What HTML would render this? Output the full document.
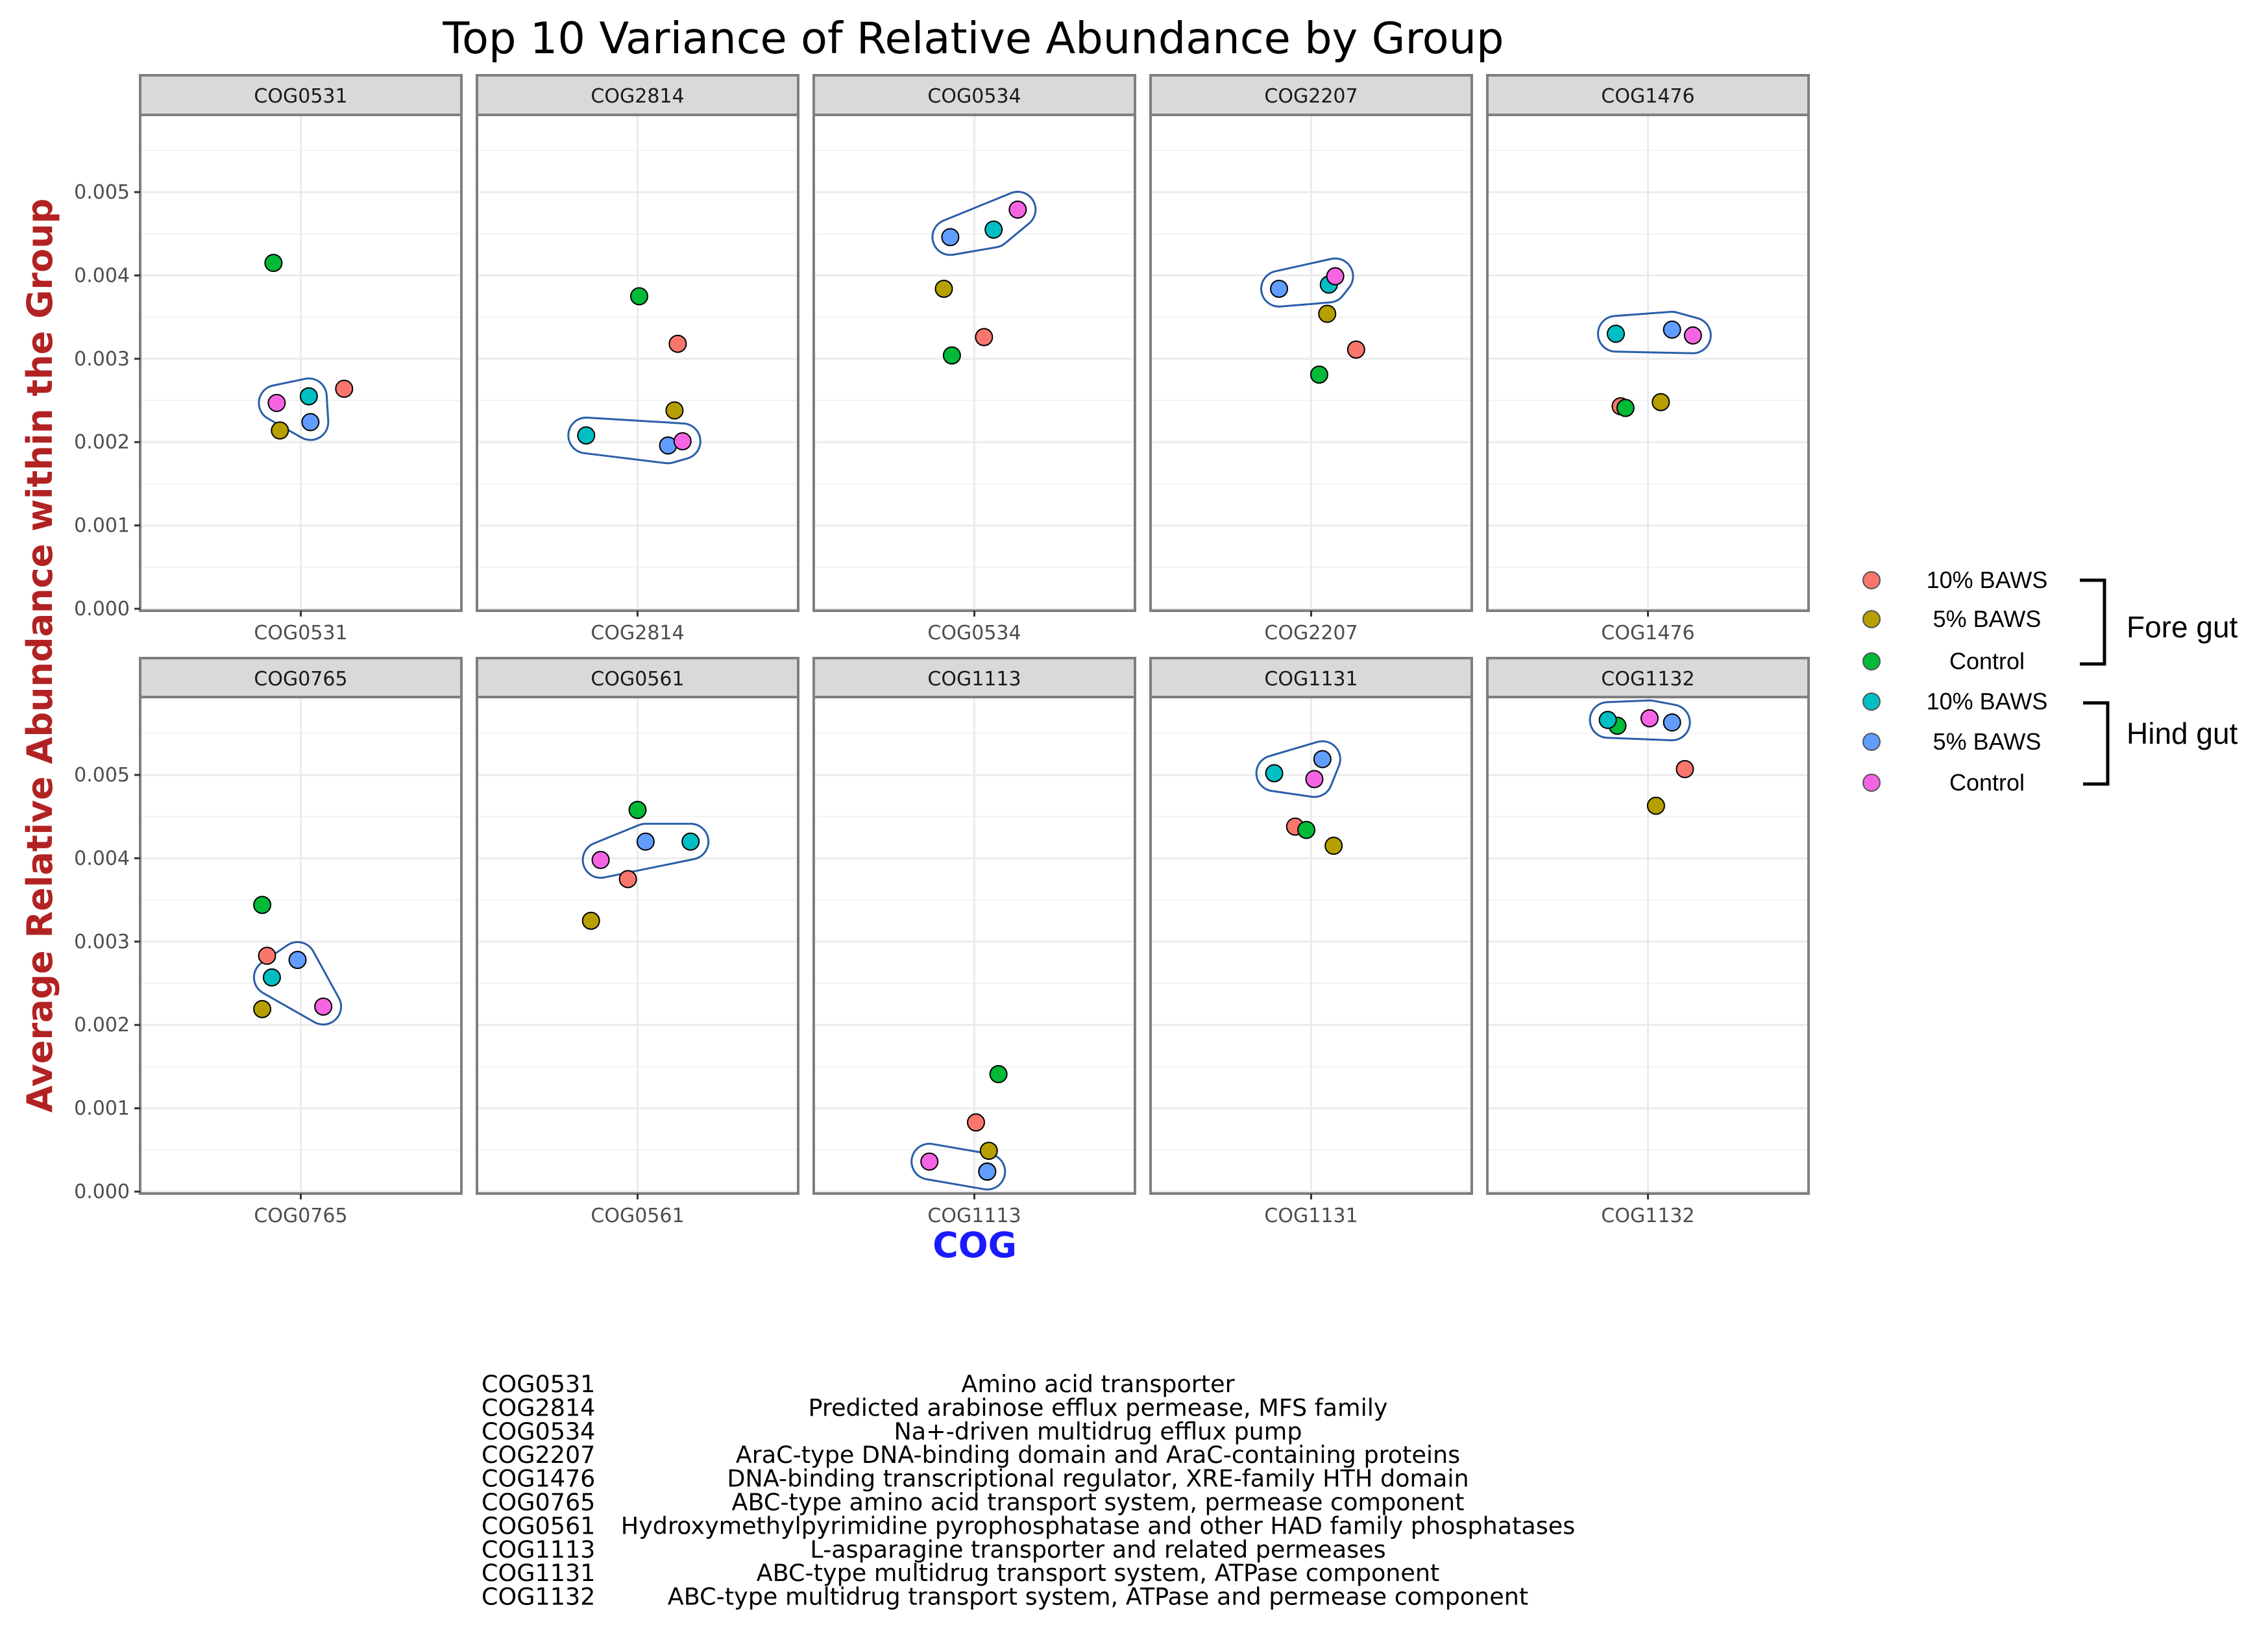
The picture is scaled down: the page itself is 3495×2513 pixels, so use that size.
<!DOCTYPE html>
<html><head><meta charset="utf-8"><style>
html,body{margin:0;padding:0;background:#fff;}
svg{display:block;}
</style></head><body>
<svg id="chart" width="3495" height="2513" viewBox="0 0 3495 2513" xmlns="http://www.w3.org/2000/svg" font-family="'DejaVu Sans', 'Liberation Sans', sans-serif">
<rect width="3495" height="2513" fill="#fff"/>
<text x="1500" y="82" font-size="67" text-anchor="middle" fill="#000">Top 10 Variance of Relative Abundance by Group</text>
<text transform="translate(80,1010) rotate(-90)" font-size="54" font-weight="bold" text-anchor="middle" fill="#b22222">Average Relative Abundance within the Group</text>
<text x="1502" y="1937" font-size="54" font-weight="bold" text-anchor="middle" fill="#1a1aff">COG</text>
<g id="panels"></g>
<g id="legend" font-family="'Liberation Sans', sans-serif"></g>
<g id="table" font-size="36.5" fill="#000"></g>
</svg>
<script>
const cogs = ["COG0531","COG2814","COG0534","COG2207","COG1476","COG0765","COG0561","COG1113","COG1131","COG1132"];
const groups = ["Fore 10% BAWS","Fore 5% BAWS","Fore Control","Hind 10% BAWS","Hind 5% BAWS","Hind Control"];
// values (x1e-3) per cog, in group order: red, gold, green, cyan, blue, pink
const values = [
 [2.64,2.14,4.15,2.55,2.24,2.47],
 [3.18,2.38,3.75,2.08,1.96,2.01],
 [3.26,3.84,3.04,4.55,4.46,4.79],
 [3.11,3.54,2.81,3.89,3.84,3.99],
 [2.43,2.48,2.41,3.30,3.35,3.28],
 [2.83,2.19,3.44,2.57,2.78,2.22],
 [3.75,3.25,4.58,4.20,4.20,3.98],
 [0.83,0.49,1.41,0.24,0.24,0.36],
 [4.38,4.15,4.34,5.02,5.19,4.95],
 [5.07,4.63,5.59,5.66,5.63,5.68]
];
// horizontal jitter as fraction of panel half-width
const jitter = [
 [0.27,-0.13,-0.17,0.05,0.06,-0.15],
 [0.25,0.23,0.01,-0.32,0.19,0.28],
 [0.06,-0.19,-0.14,0.12,-0.15,0.27],
 [0.28,0.10,0.05,0.11,-0.20,0.15],
 [-0.17,0.08,-0.14,-0.20,0.15,0.28],
 [-0.21,-0.24,-0.24,-0.18,-0.02,0.14],
 [-0.06,-0.29,0.00,0.33,0.05,-0.23],
 [0.01,0.09,0.15,0.08,0.08,-0.28],
 [-0.10,0.14,-0.03,-0.23,0.07,0.02],
 [0.23,0.05,-0.19,-0.25,0.15,0.01]
];
const yTicks = ["0.000","0.001","0.002","0.003","0.004","0.005"];
const legendLabels = ["10% BAWS","5% BAWS","Control","10% BAWS","5% BAWS","Control"];
const descriptions = ["Amino acid transporter","Predicted arabinose efflux permease, MFS family","Na+-driven multidrug efflux pump","AraC-type DNA-binding domain and AraC-containing proteins","DNA-binding transcriptional regulator, XRE-family HTH domain","ABC-type amino acid transport system, permease component","Hydroxymethylpyrimidine pyrophosphatase and other HAD family phosphatases","L-asparagine transporter and related permeases","ABC-type multidrug transport system, ATPase component","ABC-type multidrug transport system, ATPase and permease component"];
const colors = ["#F8766D","#B79F00","#00BA38","#00BFC4","#619CFF","#F564E3"];

const NS="http://www.w3.org/2000/svg";
function mk(tag,attrs,parent){const e=document.createElementNS(NS,tag);for(const k in attrs)e.setAttribute(k,attrs[k]);if(parent)parent.appendChild(e);return e;}
const panelsG=document.getElementById('panels');
const defs=mk('defs',{},document.getElementById('chart'));
const PW=495, PITCH=519, LEFT0=216;
const rows=[{stripTop:116,top:177,bottom:941,zero:938},{stripTop:1014,top:1074,bottom:1839,zero:1836}];
const PXU=128.4; // px per 0.001
function yScale(row,v){return rows[row].zero - v*PXU;}
function xScale(col,j){return LEFT0+col*PITCH+PW/2 + j*PW/2;}

function hull(pts){pts=pts.slice().sort((a,b)=>a[0]-b[0]||a[1]-b[1]);
 const cr=(o,a,b)=>(a[0]-o[0])*(b[1]-o[1])-(a[1]-o[1])*(b[0]-o[0]);
 const lo=[],up=[];for(const p of pts){while(lo.length>=2&&cr(lo[lo.length-2],lo[lo.length-1],p)<=0)lo.pop();lo.push(p);}
 for(let i=pts.length-1;i>=0;i--){const p=pts[i];while(up.length>=2&&cr(up[up.length-2],up[up.length-1],p)<=0)up.pop();up.push(p);}
 up.pop();lo.pop();return lo.concat(up);}

cogs.forEach((cog,i)=>{
 const row=Math.floor(i/5), col=i%5, R=rows[row];
 const x0=LEFT0+col*PITCH;
 const g=mk('g',{},panelsG);
 
 
 mk('rect',{x:x0,y:R.top,width:PW,height:R.bottom-R.top,fill:'#fff'},g);
 for(let k=0;k<12;k++){const v=k+0.5;const y=yScale(row,v);if(y>R.top)mk('line',{x1:x0,x2:x0+PW,y1:y,y2:y,stroke:'#f2f2f2','stroke-width':2},g);}
 yTicks.forEach((t,k)=>{const y=yScale(row,parseFloat(t)*1000);const l=mk('line',{x1:x0,x2:x0+PW,y1:y,y2:y,stroke:'#ebebeb','stroke-width':3},g);
  });
 const xc=xScale(col,0);
 mk('line',{x1:xc,x2:xc,y1:R.top,y2:R.bottom,stroke:'#ebebeb','stroke-width':3},g);
 const pts=[3,4,5].map(s=>[xScale(col,jitter[i][s]),yScale(row,values[i][s])]);
 const h=hull(pts);
 const d='M'+h.map(p=>p[0].toFixed(1)+','+p[1].toFixed(1)).join('L')+'Z';
 const mid='m'+i;
 const m=mk('mask',{id:mid,maskUnits:'userSpaceOnUse',x:0,y:0,width:3495,height:2513},defs);
 mk('rect',{x:0,y:0,width:3495,height:2513,fill:'#fff'},m);
 mk('path',{d:d,fill:'#000',stroke:'#000','stroke-width':52,'stroke-linejoin':'round'},m);
 const hp=mk('path',{d:d,fill:'none',stroke:'#2a5ea8','stroke-width':58,'stroke-linejoin':'round',mask:'url(#'+mid+')'},g);
 
 
 values[i].forEach((v,s)=>{const c=mk('circle',{cx:xScale(col,jitter[i][s]),cy:yScale(row,v),r:13,fill:colors[s],stroke:'#000','stroke-width':2},g);
  
  });
 mk('rect',{x:x0,y:R.top,width:PW,height:R.bottom-R.top,fill:'none',stroke:'#7f7f7f','stroke-width':4},g);
 mk('rect',{x:x0,y:R.stripTop,width:PW,height:R.top-R.stripTop,fill:'#d9d9d9',stroke:'#7f7f7f','stroke-width':4},g);
 const st=mk('text',{x:x0+PW/2,y:R.stripTop+42,'font-size':30,'text-anchor':'middle',fill:'#1a1a1a'},g);st.textContent=cog;
 
 mk('line',{x1:xc,x2:xc,y1:R.bottom,y2:R.bottom+9,stroke:'#333','stroke-width':3},g);
 const xl=mk('text',{x:xc,y:R.bottom+44,'font-size':30,'text-anchor':'middle',fill:'#4d4d4d'},g);xl.textContent=cog;
 
 if(col===0){yTicks.forEach(t=>{const y=yScale(row,parseFloat(t)*1000);
  mk('line',{x1:x0-9,x2:x0,y1:y,y2:y,stroke:'#333','stroke-width':3},g);
  const tl=mk('text',{x:x0-16,y:y+10,'font-size':30,'text-anchor':'end',fill:'#4d4d4d'},g);tl.textContent=t;
  });}
});
const lg=document.getElementById('legend');
const ly=[894,954,1019,1081,1143,1206];
legendLabels.forEach((t,s)=>{
 const c=mk('circle',{cx:2884,cy:ly[s],r:13,fill:colors[s],stroke:'#555','stroke-width':2},lg);
 
 const tx=mk('text',{x:3062,y:ly[s]+12,'font-size':36,'text-anchor':'middle',fill:'#000'},lg);tx.textContent=t;
 
});
mk('path',{d:'M3205,894 L3243,894 L3243,1023 L3205,1023',fill:'none',stroke:'#000','stroke-width':5},lg);
mk('path',{d:'M3210,1083 L3248,1083 L3248,1208 L3210,1208',fill:'none',stroke:'#000','stroke-width':5},lg);
const fg=mk('text',{x:3277,y:982,'font-size':46,fill:'#000'},lg);fg.textContent='Fore gut';

const hg=mk('text',{x:3277,y:1146,'font-size':46,fill:'#000'},lg);hg.textContent='Hind gut';

const tb=document.getElementById('table');
cogs.forEach((c,i)=>{const y=2145+i*36.4;
 const a=mk('text',{x:742,y:y},tb);a.textContent=c;
 
 const b=mk('text',{x:1692,y:y,'text-anchor':'middle'},tb);b.textContent=descriptions[i];
 
});
</script>
</body></html>
